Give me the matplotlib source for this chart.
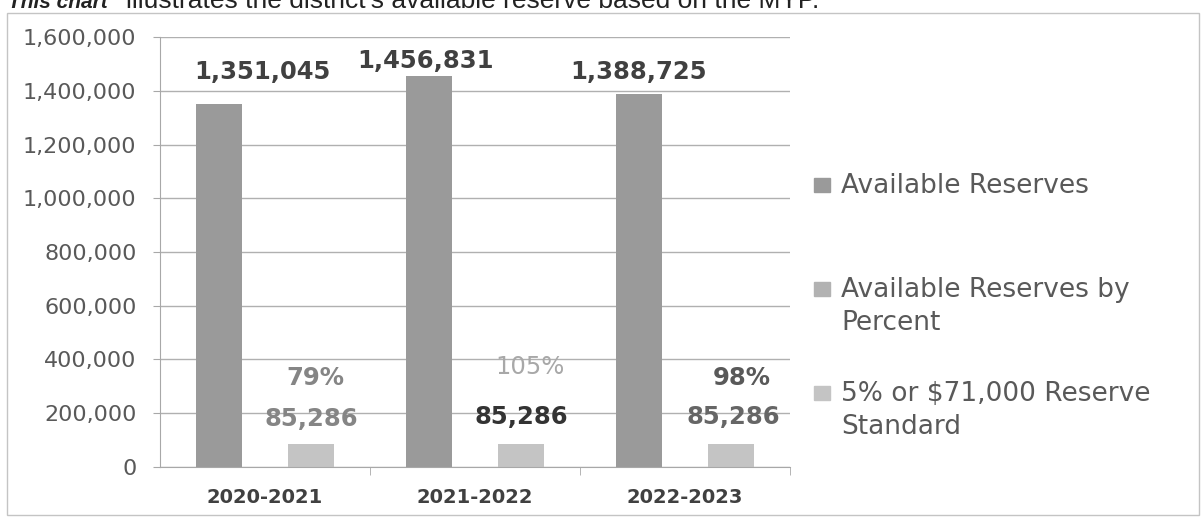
import matplotlib
matplotlib.use("Agg")
import matplotlib.pyplot as plt
from matplotlib.patches import Rectangle
from matplotlib.ticker import FuncFormatter, FixedLocator
import numpy as np

# data
years = ["2020-2021", "2021-2022", "2022-2023"]
available = [1351045, 1456831, 1388725]
by_percent = [0.79, 1.05, 0.98]
standard = [85286, 85286, 85286]
legend_labels = ["Available Reserves",
                 "Available Reserves by\nPercent",
                 "5% or $71,000 Reserve\nStandard"]
yticks = list(range(0, 1600001, 200000))

W, H = 1203, 517
fig = plt.figure(figsize=(W / 100, H / 100), dpi=100)
ax = fig.add_axes([160 / W, 1 - 466.7 / H, (790 - 160) / W, (466.7 - 37.3) / H])

x = np.arange(len(years))
bw = 46 / 210.0
b1 = ax.bar(x - bw, available, bw, color="#9a9a9a", zorder=2)
b2 = ax.bar(x, by_percent, bw, color="#b2b2b2", zorder=2)
b3 = ax.bar(x + bw, standard, bw, color="#c4c4c4", zorder=2)

ax.set_xlim(-0.5, 2.5)
ax.set_ylim(0, 1600000)
ax.yaxis.set_major_locator(FixedLocator(yticks))
ax.yaxis.set_major_formatter(FuncFormatter(lambda v, p: f"{v:,.0f}"))
ax.grid(axis="y", color="#b0b0b0", lw=1, zorder=0)
for s in ["top", "right"]:
    ax.spines[s].set_visible(False)
for s in ["left", "bottom"]:
    ax.spines[s].set_color("#a8a8a8")

ax.tick_params(axis="y", labelsize=16, labelcolor="#595959", length=5,
               color="#a8a8a8", pad=12)
ax.set_xticks(x)
ax.set_xticklabels(years, fontsize=14, fontweight="bold", color="#404040")
ax.tick_params(axis="x", length=0, pad=15)
ax.set_xticks([0.5, 1.5, 2.5], minor=True)
ax.tick_params(axis="x", which="minor", length=6, color="#a8a8a8")

# value labels, offsets in pixels (dx, dy) from the bar top
px = 0.72
lab1 = [(43.5, 32), (-3, 15), (0, 22)]
sty1 = [("bold", "#404040")] * 3
lab2 = [(50, 89), (55, 100), (57, 89)]
sty2 = [("bold", "#858585"), ("normal", "#a8a8a8"), ("bold", "#595959")]
lab3 = [(0, 25), (0, 27), (2, 27)]
sty3 = [("bold", "#858585"), ("bold", "#333333"), ("bold", "#666666")]

for i in range(len(years)):
    ax.annotate(f"{available[i]:,}", (x[i] - bw, available[i]),
                xytext=(lab1[i][0] * px, lab1[i][1] * px), textcoords="offset points",
                ha="center", va="center", fontsize=17.5,
                fontweight=sty1[i][0], color=sty1[i][1])
    ax.annotate(f"{by_percent[i]:.0%}", (x[i], by_percent[i]),
                xytext=(lab2[i][0] * px, lab2[i][1] * px), textcoords="offset points",
                ha="center", va="center", fontsize=17.5,
                fontweight=sty2[i][0], color=sty2[i][1])
    ax.annotate(f"{standard[i]:,}", (x[i] + bw, standard[i]),
                xytext=(lab3[i][0] * px, lab3[i][1] * px), textcoords="offset points",
                ha="center", va="center", fontsize=17.5,
                fontweight=sty3[i][0], color=sty3[i][1])

# legend drawn by hand so the squares sit on the first line
rows = [185, 289, 393]
for bars, lab, ytop in zip([b1, b2, b3], legend_labels, rows):
    fig.add_artist(Rectangle((814 / W, 1 - (ytop + 7) / H), 16 / W, 14 / H,
                             transform=fig.transFigure,
                             color=bars.patches[0].get_facecolor()))
    fig.text(841 / W, 1 - (ytop - 12) / H, lab, ha="left", va="top",
             fontsize=19, color="#595959", linespacing=1.36)

# outer chart frame
fig.add_artist(Rectangle((7 / W, 1 - 515 / H), (1199 - 7) / W, (515 - 13) / H,
                         transform=fig.transFigure, fill=False,
                         ec="#c4c4c4", lw=1))

# caption line cut by the scan at the top
fig.text(8 / W, 1 - 8 / H, "This chart", ha="left", va="baseline",
         fontsize=15, fontweight="bold", style="italic",
         family="Liberation Sans", color="#222222")
fig.text(126 / W, 1 - 8 / H,
         "illustrates the district's available reserve based on the MYP.",
         ha="left", va="baseline", fontsize=19, family="Liberation Sans",
         color="#222222")

fig.savefig("out.png", dpi=100)
